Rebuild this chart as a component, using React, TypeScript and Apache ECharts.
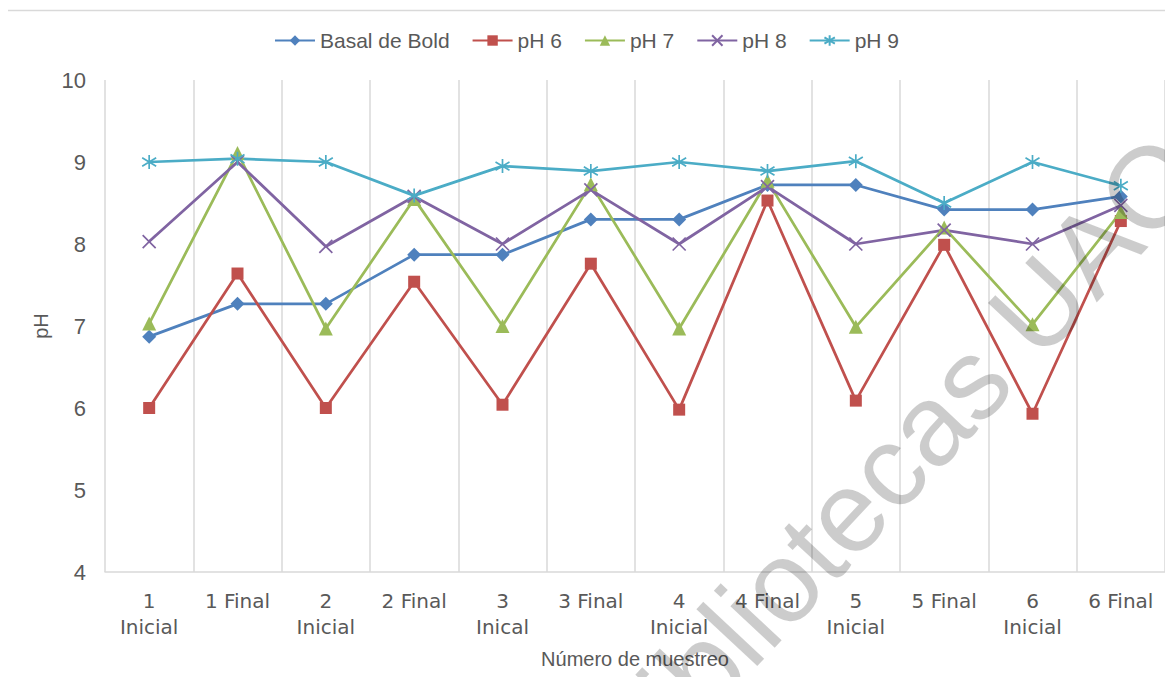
import React, { useEffect, useRef } from "react";
import * as echarts from "echarts";

const categories = [
  "1\nInicial", "1 Final", "2\nInicial", "2 Final", "3\nInical", "3 Final",
  "4\nInicial", "4 Final", "5\nInicial", "5 Final", "6\nInicial", "6 Final",
];
const basalDeBold = [6.87, 7.27, 7.27, 7.87, 7.87, 8.3, 8.3, 8.72, 8.72, 8.42, 8.42, 8.58];
const ph6 = [6.0, 7.64, 6.0, 7.54, 6.04, 7.76, 5.98, 8.53, 6.09, 7.99, 5.93, 8.28];
const ph7 = [7.03, 9.11, 6.97, 8.55, 7.0, 8.73, 6.97, 8.77, 6.99, 8.2, 7.02, 8.39];
const ph8 = [8.03, 9.0, 7.97, 8.58, 8.0, 8.66, 8.0, 8.7, 8.0, 8.17, 8.0, 8.47];
const ph9 = [9.0, 9.04, 9.0, 8.59, 8.95, 8.89, 9.0, 8.89, 9.01, 8.5, 9.0, 8.71];
const yTicks = { min: 4, max: 10, interval: 1 };

const FONT = "'Liberation Sans', Arial, sans-serif";
const GREY = "#595959";

const X_PATH = "path://M0,0 L10,10 M10,0 L0,10";
const STAR_PATH = "path://M5,0 L5,10 M0,2 L10,8 M10,2 L0,8";

function mkSeries(name: string, data: number[], color: string, symbol: string, size: number, stroked = false) {
  return {
    name,
    type: "line",
    data,
    symbol,
    symbolSize: size,
    showSymbol: true,
    lineStyle: { color, width: 2.75 },
    itemStyle: stroked
      ? { color, borderColor: color, borderWidth: 1.7 }
      : { color, borderWidth: 0 },
    emphasis: { disabled: true },
  };
}

export default function App() {
  const ref = useRef<HTMLDivElement>(null);
  useEffect(() => {
    if (!ref.current) return;
    const chart = echarts.init(ref.current, null, { renderer: "svg" });
    chart.setOption({
      animation: false,
      backgroundColor: "#ffffff",
      textStyle: { fontFamily: FONT },
      legend: {
        top: 25,
        left: "center",
        itemWidth: 40,
        itemHeight: 13,
        itemGap: 22,
        textStyle: { color: GREY, fontSize: 21, fontFamily: FONT },
        data: ["Basal de Bold", "pH 6", "pH 7", "pH 8", "pH 9"],
      },
      grid: { left: 105, right: 8, top: 80, bottom: 113 },
      xAxis: {
        type: "category",
        data: categories,
        boundaryGap: true,
        name: "Número de muestreo",
        nameLocation: "middle",
        nameGap: 77,
        nameTextStyle: { color: GREY, fontSize: 20, fontFamily: FONT },
        axisLine: { show: true, lineStyle: { color: "#D9D9D9", width: 1.5 } },
        axisTick: { show: false },
        splitLine: { show: true, lineStyle: { color: "#D9D9D9", width: 1.5 } },
        axisLabel: {
          color: GREY,
          fontSize: 20,
          fontFamily: "'DejaVu Sans', sans-serif",
          margin: 16,
          lineHeight: 26,
          interval: 0,
          verticalAlign: "top",
        },
      },
      yAxis: {
        type: "value",
        min: yTicks.min,
        max: yTicks.max,
        interval: yTicks.interval,
        name: "pH",
        nameLocation: "middle",
        nameGap: 52,
        nameTextStyle: { color: GREY, fontSize: 20, fontFamily: FONT },
        axisLine: { show: false },
        axisTick: { show: false },
        splitLine: { show: false },
        axisLabel: { color: GREY, fontSize: 22, fontFamily: FONT, margin: 19 },
      },
      series: [
        mkSeries("Basal de Bold", basalDeBold, "#4F81BD", "diamond", 14),
        mkSeries("pH 6", ph6, "#C0504D", "rect", 12),
        mkSeries("pH 7", ph7, "#9BBB59", "triangle", 14),
        mkSeries("pH 8", ph8, "#8064A2", X_PATH, 13, true),
        mkSeries("pH 9", ph9, "#4BACC6", STAR_PATH, 14, true),
      ],
      graphic: [
        {
          type: "rect",
          shape: { x: 6.5, y: 10.5, width: 1200, height: 700 },
          style: { fill: "none", stroke: "#D9D9D9", lineWidth: 1.5 },
          silent: true,
          z: -10,
        },
        {
          type: "text",
          x: 895,
          y: 460,
          rotation: 0.82,
          silent: true,
          z: 100,
          style: {
            text: "Bibliotecas UAQ",
            fontSize: 115,
            fontFamily: FONT,
            fill: "rgba(0,0,0,0.2)",
            align: "center",
            verticalAlign: "middle",
          },
        },
      ],
    });
    return () => chart.dispose();
  }, []);
  return <div ref={ref} style={{ width: 1173, height: 685, margin: -8 }} />;
}
